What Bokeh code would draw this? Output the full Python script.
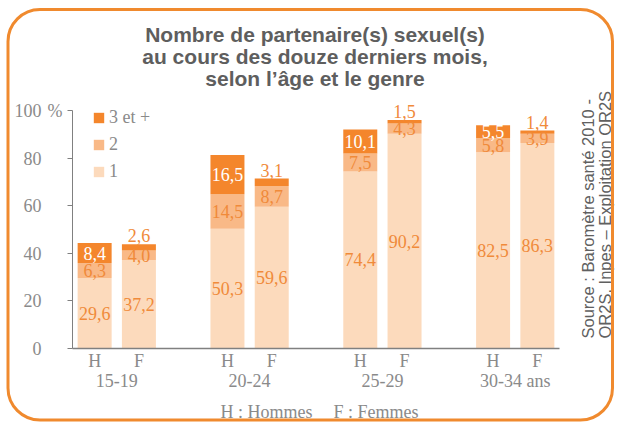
import numpy as np
from bokeh.plotting import figure
from bokeh.models import (Range1d, ColumnDataSource, FixedTicker, LinearAxis,
                          Legend, LegendItem, Label, BoxAnnotation)
from bokeh.core.properties import value
from bokeh.embed import file_html
from bokeh.resources import INLINE

# ---- data ----
groups = ["15-19", "20-24", "25-29", "30-34 ans"]
genders = ["H", "F"]
one = [29.6, 37.2, 50.3, 59.6, 74.4, 90.2, 82.5, 86.3]
two = [6.3, 4.0, 14.5, 8.7, 7.5, 4.3, 5.8, 3.9]
three = [8.4, 2.6, 16.5, 3.1, 10.1, 1.5, 5.5, 1.4]
series_names = ["1", "2", "3 et +"]
y_ticks = [0, 20, 40, 60, 80, 100]
title_lines = ["Nombre de partenaire(s) sexuel(s)",
               "au cours des douze derniers mois,",
               "selon l\u2019âge et le genre"]
source_lines = ["Source : Baromètre santé 2010 -",
                "OR2S, Inpes \u2013 Exploitation OR2S"]
note_h = "H : Hommes"
note_f = "F : Femmes"

# ---- style ----
C1, C2, C3 = "#FCDABC", "#F9B987", "#F4862C"
ORANGE_TXT = "#F08A3A"
GREY = "#8a8a8a"
SERIF = "Liberation Serif"
SANS = "Liberation Sans"
W, H = 617, 423

# categorical layout: each bar slot = 2 units, 1 empty slot between groups
n_g = len(genders)
step = 2 * (n_g + 1)
x_pos = [step * i + 2 * j + 1 for i in range(len(groups)) for j in range(n_g)]
g_pos = [step * i + n_g for i in range(len(groups))]
x_end = step * len(groups) - 2
labels_x = {x: genders[k % n_g] for k, x in enumerate(x_pos)}
labels_g = {x: groups[k] for k, x in enumerate(g_pos)}

px_x = 487 / x_end        # pixels per x unit
px_y = 2.38               # pixels per %
x0_px, y0_px = 72, 348    # axes origin on the canvas

p = figure(width=W, height=H,
           x_range=Range1d(-x0_px / px_x, (W - x0_px) / px_x),
           y_range=Range1d(-(H - y0_px) / px_y, y0_px / px_y),
           output_backend="svg", toolbar_location=None,
           x_axis_type=None, y_axis_type=None,
           min_border_left=0, min_border_right=0,
           min_border_top=0, min_border_bottom=0)
p.outline_line_color = None
p.background_fill_color = "white"
p.border_fill_color = "white"

src = ColumnDataSource(dict(x=x_pos, one=one, two=two, three=three))
rs = p.vbar_stack(["one", "two", "three"], x="x", width=1.536, source=src,
                  fill_color=[C1, C2, C3], line_color=None)

# value labels
lx, ly, lt, lc = [], [], [], []
for i, xp in enumerate(x_pos):
    vals = [one[i], two[i], three[i]]
    bottom = 0.0
    for k, v in enumerate(vals):
        txt = f"{v:.1f}".replace(".", ",")
        if k == 2 and v < 4:
            y, c = bottom + v + 3.5, ORANGE_TXT
        elif k == 2:
            y, c = bottom + v / 2, "white"
        else:
            y, c = bottom + v / 2, ORANGE_TXT
        lx.append(xp); ly.append(y); lt.append(txt); lc.append(c)
        bottom += v
lab_src = ColumnDataSource(dict(x=lx, y=ly, t=lt, c=lc))
p.text(x="x", y="y", text="t", text_color="c", source=lab_src,
       text_font=value(SERIF), text_font_size="18px",
       text_align="center", text_baseline="middle")

# x axis: H/F labels
xa = LinearAxis(fixed_location=0, bounds=(0, x_end),
                ticker=FixedTicker(ticks=x_pos),
                major_label_overrides=labels_x)
xa.axis_line_color = "#808080"
xa.axis_line_width = 1.5
xa.major_tick_line_color = None
xa.major_tick_out = 0
xa.major_tick_in = 0
xa.minor_tick_line_color = None
xa.major_label_standoff = 2
xa.major_label_text_font = SERIF
xa.major_label_text_font_size = "18px"
xa.major_label_text_color = GREY
p.add_layout(xa, "below")

# x axis: age groups
xg = LinearAxis(fixed_location=0, ticker=FixedTicker(ticks=g_pos),
                major_label_overrides=labels_g)
xg.axis_line_color = None
xg.major_tick_line_color = None
xg.minor_tick_line_color = None
xg.major_tick_out = 0
xg.major_tick_in = 0
xg.major_label_standoff = 22
xg.major_label_text_font = SERIF
xg.major_label_text_font_size = "18px"
xg.major_label_text_color = GREY
p.add_layout(xg, "below")

# y axis
ya = LinearAxis(fixed_location=0, bounds=(0, 100), ticker=FixedTicker(ticks=y_ticks))
ya.axis_line_color = "#808080"
ya.major_tick_line_color = "#808080"
ya.major_tick_out = 5
ya.major_tick_in = 0
ya.minor_tick_line_color = None
ya.major_label_standoff = 26
ya.major_label_text_font = SERIF
ya.major_label_text_font_size = "18px"
ya.major_label_text_color = GREY
p.add_layout(ya, "left")

p.add_layout(Label(x=47, y=H - 110, x_units="screen", y_units="screen", text="%",
                   text_align="left", text_baseline="middle", text_font=SERIF,
                   text_font_size="18px", text_color=GREY))

# legend
items = [LegendItem(label=series_names[k], renderers=[rs[k]]) for k in (2, 1, 0)]
legend = Legend(items=items, location=(92, H - 181.5), glyph_width=13, glyph_height=13,
                label_standoff=4, spacing=6, padding=0, margin=0,
                border_line_color=None, background_fill_alpha=0,
                label_text_font=SERIF, label_text_font_size="18px",
                label_text_color=GREY, label_height=20)
p.add_layout(legend)

# title
for j, line in enumerate(title_lines):
    p.add_layout(Label(x=314.5, y=H - 34 - 22 * j, x_units="screen", y_units="screen",
                       text=line, text_align="center", text_baseline="alphabetic",
                       text_font=SANS, text_font_style="bold", text_font_size="21px",
                       text_color="#5e5e5e"))

# source (vertical)
for j, line in enumerate(source_lines):
    p.add_layout(Label(x=587 + 17.5 * j, y=H - 338, x_units="screen", y_units="screen",
                       angle=np.pi / 2, text=line, text_align="left",
                       text_baseline="middle", text_font=SANS,
                       text_font_size="16.5px", text_color="#606060"))

# note
for xs, t in ((220, note_h), (333, note_f)):
    p.add_layout(Label(x=xs, y=H - 411, x_units="screen", y_units="screen", text=t,
                       text_align="left", text_baseline="middle", text_font=SERIF,
                       text_font_size="18px", text_color=GREY))

# rounded frame
p.add_layout(BoxAnnotation(left=7.5, right=612, top=H - 9, bottom=H - 419.5,
                           left_units="screen", right_units="screen",
                           top_units="screen", bottom_units="screen",
                           fill_alpha=0, line_color="#F08A2E", line_alpha=1.0,
                           line_width=3, border_radius=32))

open("out.html", "w").write(file_html(p, INLINE))
